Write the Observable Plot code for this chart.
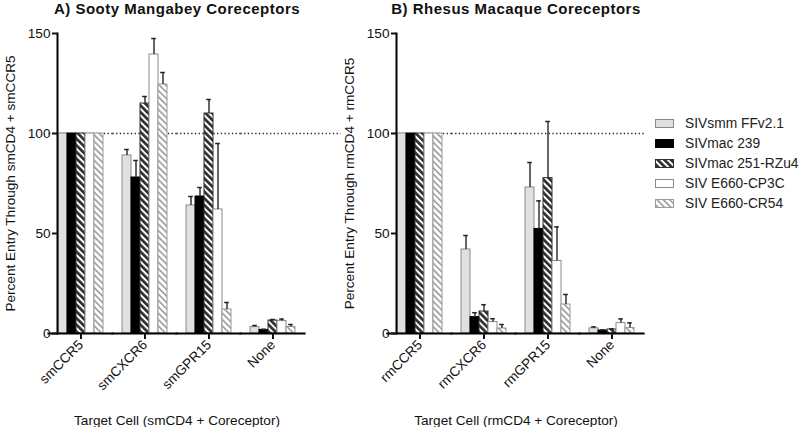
<!DOCTYPE html>
<html><head><meta charset="utf-8">
<script src="https://cdn.jsdelivr.net/npm/d3@7"></script>
<script src="https://cdn.jsdelivr.net/npm/@observablehq/plot@0.6"></script>
<style>
html,body{margin:0;padding:0;background:#fff;}
#chart{position:relative;width:800px;height:427px;overflow:hidden;font-family:"Liberation Sans",Arial,sans-serif;color:#111;}
#chart svg.panel{position:absolute;top:0;overflow:visible;}
.title{position:absolute;top:0;font-weight:bold;font-size:15px;letter-spacing:0.5px;white-space:nowrap;transform:translateX(-50%);}
.legend{position:absolute;left:655px;top:113px;font-size:13.8px;color:#222;}
.legend .row{display:flex;align-items:center;height:20px;white-space:nowrap;}
.legend svg{margin-right:11px;}
</style></head><body>
<svg width="0" height="0" style="position:absolute">
<defs>
<pattern id="hatchDark" patternUnits="userSpaceOnUse" width="4.7" height="4.7" patternTransform="rotate(-45)">
<rect width="4.7" height="4.7" fill="#fff"/><rect width="2.7" height="4.7" fill="#2e2e2e"/>
</pattern>
<pattern id="hatchLight" patternUnits="userSpaceOnUse" width="4.5" height="4.5" patternTransform="rotate(-45)">
<rect width="4.5" height="4.5" fill="#fff"/><rect width="1.6" height="4.5" fill="#9a9a9a"/>
</pattern>
</defs></svg>
<div id="chart"></div>
<script>
// ---- data ----
const series = ["SIVsmm FFv2.1", "SIVmac 239", "SIVmac 251-RZu4", "SIV E660-CP3C", "SIV E660-CR54"];
const smCats = ["smCCR5", "smCXCR6", "smGPR15", "None"];
const rmCats = ["rmCCR5", "rmCXCR6", "rmGPR15", "None"];
// values per series, in category order
const smValues = [
  [100, 89, 64, 3.2],
  [100, 78, 68.5, 1.8],
  [100, 115, 110, 6.5],
  [100, 139.5, 62, 6.2],
  [100, 124.5, 12, 3.3]
];
const smErrors = [
  [0, 3, 4.5, 0.8],
  [0, 8.5, 4.5, 0.3],
  [0, 3.5, 7, 0.5],
  [0, 8, 33, 1],
  [0, 6, 3.5, 1.2]
];
const rmValues = [
  [100, 42, 73, 2.6],
  [100, 8.2, 52.3, 1.5],
  [100, 11, 77.7, 2],
  [100, 5.7, 36.3, 5.2],
  [100, 2.5, 14.5, 2.8]
];
const rmErrors = [
  [0, 7, 12.5, 0.7],
  [0, 2.2, 14, 0.3],
  [0, 3.4, 28.3, 0.3],
  [0, 1.7, 17, 2.1],
  [0, 2, 5, 2.5]
];
const yTicks = [0, 50, 100, 150];
const referenceLevel = 100;

// ---- styles ----
const fills = ["#e0e0e0", "#000000", "url(#hatchDark)", "#ffffff", "url(#hatchLight)"];
const strokes = ["#8a8a8a", "#000000", "#2e2e2e", "#8a8a8a", "#9a9a9a"];

function rows(cats, vals, errs) {
  const out = [];
  cats.forEach((c, i) => series.forEach((s, j) => out.push({cat: c, series: s, value: vals[j][i], err: errs[j][i]})));
  return out;
}

function panel({cats, vals, errs, ylabel, xlabel, width, marginLeft, marginRight, extend}) {
  const data = rows(cats, vals, errs);
  const withErr = data.filter(d => d.err > 0);
  const last = cats[cats.length - 1];
  const refRows = cats.map(c => ({cat: c, y: referenceLevel}));
  const zeroRows = cats.map(c => ({cat: c, y: 0}));
  const half = 8.6; // half of the gap between groups, so per-group rules join up
  const svg = Plot.plot({
    width, height: 427,
    marginTop: 33, marginBottom: 94, marginLeft, marginRight,
    style: {fontFamily: "Liberation Sans, Arial, sans-serif", fontSize: "13.6px", fontWeight: "normal", color: "#111", background: "transparent", overflow: "visible"},
    fx: {domain: cats, paddingInner: 0.265, paddingOuter: 0.1325, label: null},
    x: {domain: series, padding: 0, axis: null},
    y: {domain: [0, 150]},
    marks: [
      Plot.ruleY(refRows.filter(d => d.cat !== last), {fx: "cat", y: "y", stroke: "#222", strokeWidth: 1.3, strokeDasharray: "1.3,2.4", insetLeft: -half, insetRight: -half}),
      Plot.ruleY(refRows.filter(d => d.cat === last), {fx: "cat", y: "y", stroke: "#222", strokeWidth: 1.3, strokeDasharray: "1.3,2.4", insetLeft: -half, insetRight: -half - extend}),
      ...series.map((s, j) => Plot.barY(data.filter(d => d.series === s), {
        fx: "cat", x: "series", y: "value", fill: fills[j], stroke: strokes[j], strokeWidth: 1
      })),
      Plot.ruleX(withErr, {fx: "cat", x: "series", y1: "value", y2: d => d.value + d.err, stroke: "#333", strokeWidth: 1.5}),
      Plot.tickY(withErr, {fx: "cat", x: "series", y: d => d.value + d.err, stroke: "#222", strokeWidth: 1.5, insetLeft: 2.2, insetRight: 2.2}),
      Plot.ruleY(zeroRows, {fx: "cat", y: "y", stroke: "#000", strokeWidth: 2, insetLeft: -half - 1, insetRight: -half - 1}),
      Plot.frame({anchor: "left", facet: "super", stroke: "#000", strokeWidth: 2}),
      Plot.axisY({ticks: yTicks, tickSize: 5, tickPadding: 2, strokeWidth: 2, label: ylabel, labelAnchor: "center", labelOffset: 52, labelArrow: "none"}),
      Plot.axisFx({anchor: "bottom", tickSize: 6, tickPadding: 3, strokeWidth: 2, tickRotate: -45, label: xlabel, labelAnchor: "center", labelOffset: 91, labelArrow: "none"})
    ]
  });
  svg.classList.add("panel");
  return svg;
}

const chart = document.getElementById("chart");

const left = panel({cats: smCats, vals: smValues, errs: smErrors,
  ylabel: "Percent Entry Through smCD4 + smCCR5", xlabel: "Target Cell (smCD4 + Coreceptor)",
  width: 338, marginLeft: 48, marginRight: 33, extend: 36});
left.style.left = "0px";
chart.appendChild(left);

const right = panel({cats: rmCats, vals: rmValues, errs: rmErrors,
  ylabel: "Percent Entry Through rmCD4 + rmCCR5", xlabel: "Target Cell (rmCD4 + Coreceptor)",
  width: 308, marginLeft: 49, marginRight: 2, extend: 0});
right.style.left = "338px";
chart.appendChild(right);

// titles
[["A) Sooty Mangabey Coreceptors", 177], ["B) Rhesus Macaque Coreceptors", 516]].forEach(([t, x]) => {
  const d = document.createElement("div");
  d.className = "title"; d.textContent = t; d.style.left = x + "px";
  chart.appendChild(d);
});

// legend
const leg = document.createElement("div");
leg.className = "legend";
series.forEach((s, j) => {
  const row = document.createElement("div");
  row.className = "row";
  row.innerHTML = `<svg width="19" height="9"><rect x="0.5" y="0.5" width="18" height="8" fill="${fills[j]}" stroke="${strokes[j]}" stroke-width="1"/></svg><span>${s}</span>`;
  leg.appendChild(row);
});
chart.appendChild(leg);
</script>
</body></html>
